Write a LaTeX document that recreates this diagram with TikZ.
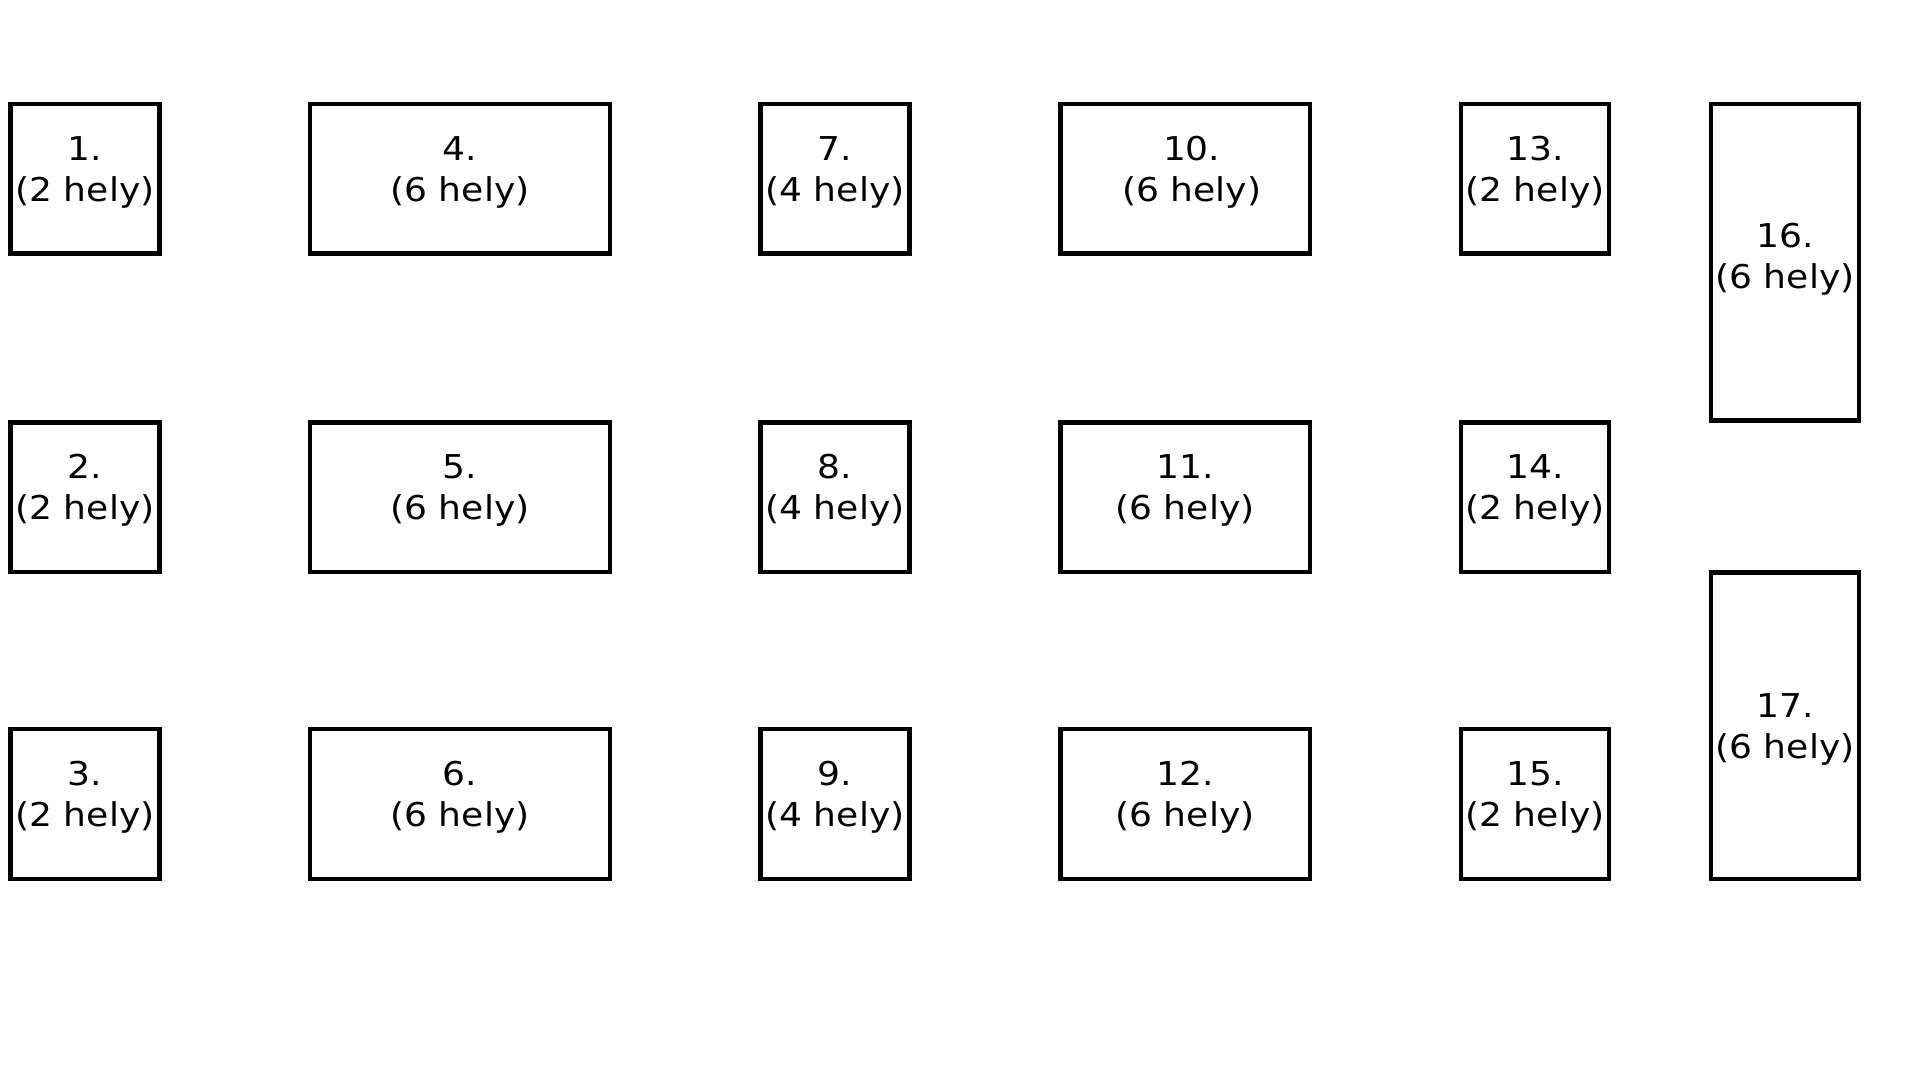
\documentclass[tikz,border=0pt]{standalone}
\usepackage{fontspec}
\setmainfont{DejaVu Sans}[FakeStretch=1.1]
\begin{document}
\begin{tikzpicture}[x=1pt,y=1pt,
  box/.style={draw=black, line width=4.4pt, inner sep=0pt, outer sep=0pt, fill=white},
  narrow/.style={box, minimum width=149pt, minimum height=149.5pt},
  wide/.style={box, minimum width=300pt, minimum height=149.5pt},
  mid/.style={box, minimum width=249.4pt, minimum height=149.5pt},
  lbl/.style={anchor=base, inner sep=0pt, font=\fontsize{32.8}{41.3}\selectfont}
]
\fill[white] (0,0) rectangle (1920,1080);
\useasboundingbox (0,0) rectangle (1920,1080);
\newcommand{\twol}[2]{\begin{tabular}[t]{@{}c@{}}#1\\#2\end{tabular}}
% column 1
\node[narrow] (b1) at (85,901.25) {};
\node[narrow] (b2) at (85,582.8) {};
\node[narrow] (b3) at (85,276) {};
% column 2
\node[wide] (b4) at (460,901.25) {};
\node[wide] (b5) at (460,582.8) {};
\node[wide] (b6) at (460,276) {};
% column 3
\node[narrow] (b7) at (835,901.25) {};
\node[narrow] (b8) at (835,582.8) {};
\node[narrow] (b9) at (835,276) {};
% column 4
\node[mid] (b10) at (1185,901.25) {};
\node[mid] (b11) at (1185,582.8) {};
\node[mid] (b12) at (1185,276) {};
% column 5
\node[narrow, minimum width=148pt] (b13) at (1535,901.25) {};
\node[narrow, minimum width=148pt] (b14) at (1535,582.8) {};
\node[narrow, minimum width=148pt] (b15) at (1535,276) {};
% column 6
\node[box, minimum width=148.3pt, minimum height=316.5pt] (b16) at (1785,817.75) {};
\node[box, minimum width=148.3pt, minimum height=306.2pt] (b17) at (1785,354.4) {};
% labels
\node[lbl] (t1) at (85,919.75) {\twol{1.}{(2 hely)}};
\node[lbl] (t2) at (85,601.3) {\twol{2.}{(2 hely)}};
\node[lbl] (t3) at (85,294.5) {\twol{3.}{(2 hely)}};
\node[lbl] (t4) at (460,919.75) {\twol{4.}{(6 hely)}};
\node[lbl] (t5) at (460,601.3) {\twol{5.}{(6 hely)}};
\node[lbl] (t6) at (460,294.5) {\twol{6.}{(6 hely)}};
\node[lbl] (t7) at (835,919.75) {\twol{7.}{(4 hely)}};
\node[lbl] (t8) at (835,601.3) {\twol{8.}{(4 hely)}};
\node[lbl] (t9) at (835,294.5) {\twol{9.}{(4 hely)}};
\node[lbl] (t10) at (1191.7,919.75) {\twol{10.}{(6 hely)}};
\node[lbl] (t11) at (1185,601.3) {\twol{11.}{(6 hely)}};
\node[lbl] (t12) at (1185,294.5) {\twol{12.}{(6 hely)}};
\node[lbl] (t13) at (1535,919.75) {\twol{13.}{(2 hely)}};
\node[lbl] (t14) at (1535,601.3) {\twol{14.}{(2 hely)}};
\node[lbl] (t15) at (1535,294.5) {\twol{15.}{(2 hely)}};
\node[lbl] (t16) at (1785,832.5) {\twol{16.}{(6 hely)}};
\node[lbl] (t17) at (1785,362.3) {\twol{17.}{(6 hely)}};
\end{tikzpicture}
\end{document}
